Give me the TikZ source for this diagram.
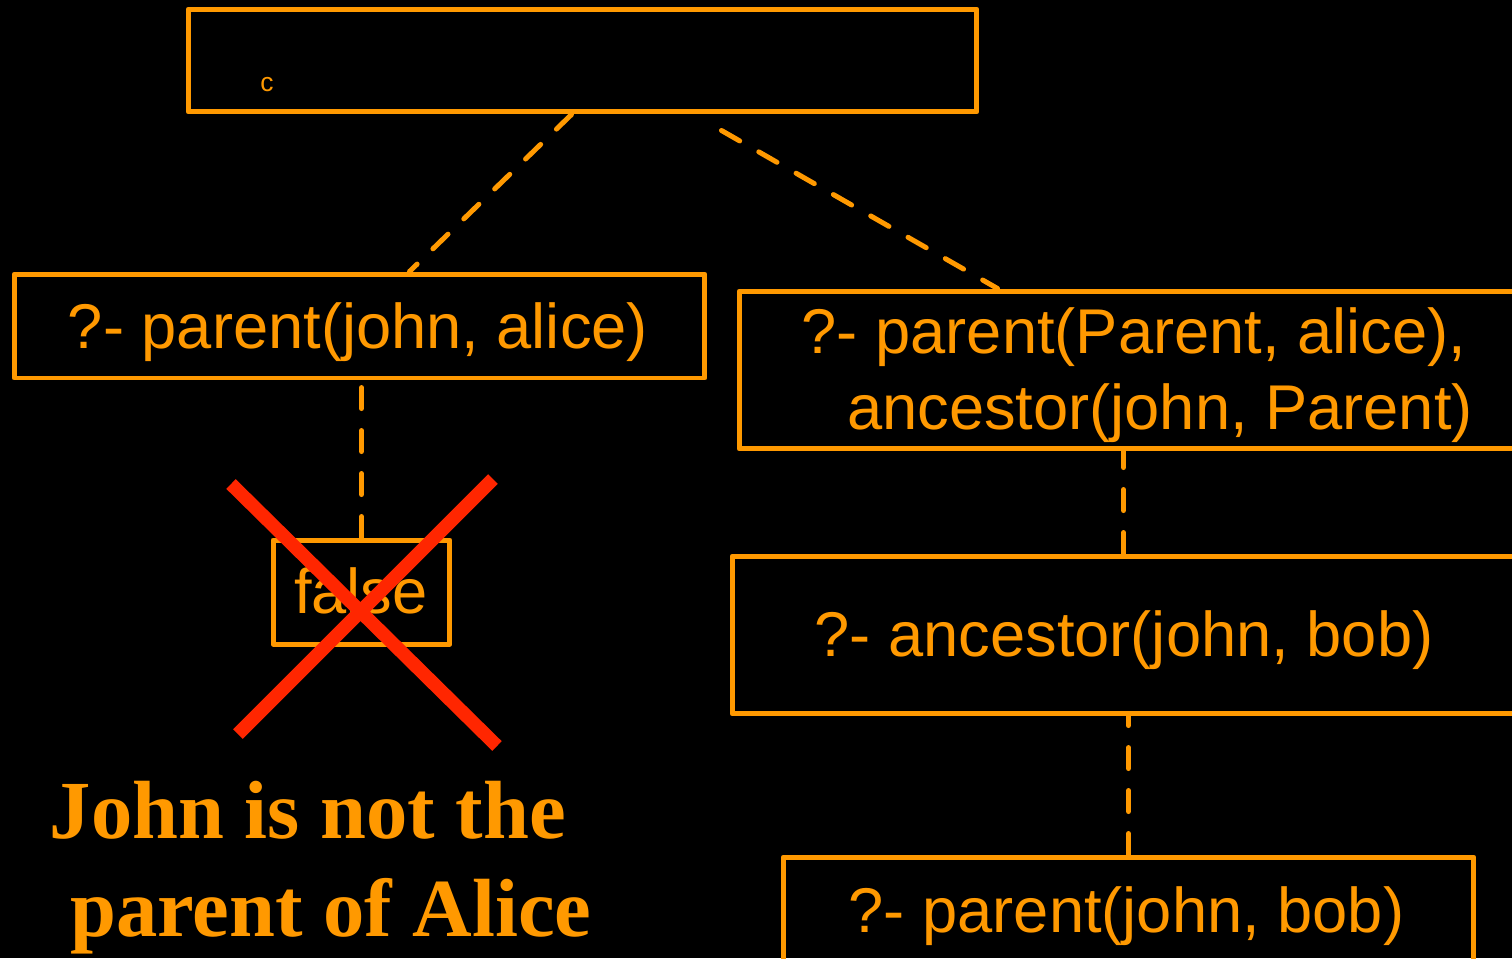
\documentclass[tikz,border=0pt]{standalone}
\usepackage{fontspec}
\setmainfont{Liberation Serif}
\setsansfont{Liberation Sans}
\definecolor{org}{RGB}{255,153,0}
\definecolor{xred}{RGB}{255,38,0}
\begin{document}
\begin{tikzpicture}[x=0.02cm,y=-0.02cm,
  box/.style={draw=org, line width=0.1cm, line join=round, inner sep=0},
  qtext/.style={text=org, font=\sffamily\fontsize{36}{43}\selectfont, inner sep=0, anchor=base},
  link/.style={draw=org, line width=0.1cm, line cap=round, dash pattern=on 0.42cm off 0.44cm},
  cross/.style={draw=xred, line width=0.27cm},
  note/.style={text=org, font=\rmfamily\bfseries\fontsize{47}{55}\selectfont, inner sep=0, anchor=base}]
\fill[black] (0,0) rectangle (1512,958);
\useasboundingbox (0,0) rectangle (1512,958);
\clip (0,0) rectangle (1512,958);

% boxes
\node[box, minimum width=15.78cm, minimum height=2.06cm] (top) at (582.5,60.5) {};
\node[box, minimum width=13.82cm, minimum height=2.08cm] (left) at (359.5,326) {};
\node[box, minimum width=15.82cm, minimum height=3.16cm] (box1) at (1134.5,370) {};
\node[box, minimum width=15.96cm, minimum height=3.16cm] (box2) at (1131,635) {};
\node[box, minimum width=13.82cm, minimum height=2.66cm] (bottom) at (1128.5,923.5) {};
\node[box, minimum width=3.54cm, minimum height=2.08cm] (false) at (361.5,592) {};

% texts
\node[text=org, font=\sffamily\fontsize{15}{16}\selectfont, inner sep=0, anchor=base] (tg) at (267,91) {c};
\node[qtext] (tleft) at (358,348) {?- parent(john, alice)};
\node[qtext] (tb1a) at (1134,353) {?- parent(Parent, alice),};
\node[qtext] (tb1b) at (1160,429) {ancestor(john, Parent)};
\node[qtext] (tb2) at (1124,656) {?- ancestor(john, bob)};
\node[qtext] (tbot) at (1126.5,932) {?- parent(john, bob)};
\node[qtext] (tfalse) at (361,613) {false};

% connectors
\coordinate (c1) at ([xshift=7.72cm]top.south west);
\coordinate (c2) at ([xshift=7.96cm]left.north west);
\draw[link] (c1) -- (c2);
\coordinate (c3) at ([xshift=10.72cm,yshift=-0.32cm]top.south west);
\coordinate (c4) at ([xshift=5.22cm]box1.north west);
\draw[link] (c3) -- (c4);
\draw[link] (false.north) -- (false.north |- left.south);
\coordinate (c5) at ([xshift=7.88cm]box2.north west);
\draw[link] (c5) -- (c5 |- box1.south);
\draw[link] (bottom.north) -- (bottom.north |- box2.south);

% red cross
\draw[cross] (231,484) -- (497,746);
\draw[cross] (493,479) -- (238,734);

% note
\node[note] (note1) at (308,838) {John is not the};
\node[note] (note2) at (331,936) {parent of Alice};
\end{tikzpicture}
\end{document}
